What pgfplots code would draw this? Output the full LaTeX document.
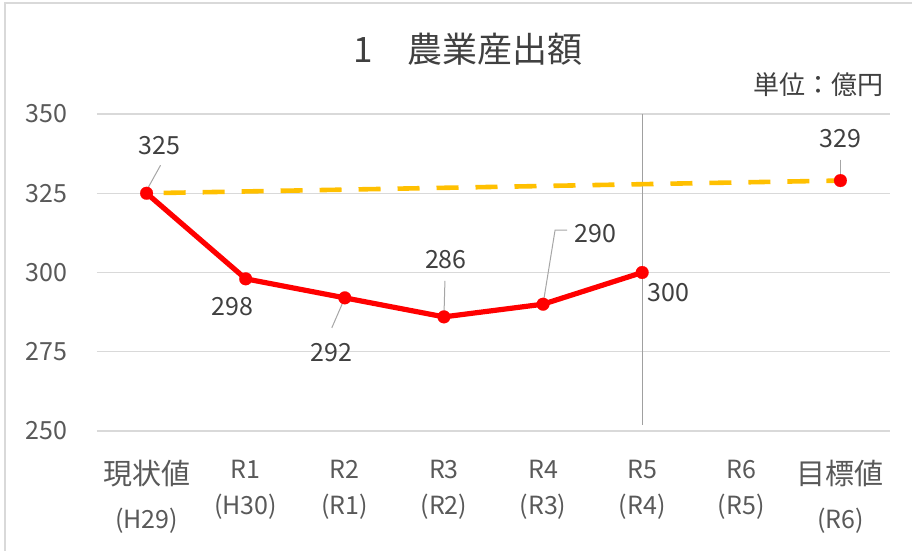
\documentclass[border=0pt]{standalone}
\usepackage{fontspec}
\setmainfont{Noto Sans CJK JP}
\usepackage{pgfplots}
\pgfplotsset{compat=1.18}
\definecolor{ored}{HTML}{FF0000}
\definecolor{oyel}{HTML}{FFC000}
\definecolor{gridc}{HTML}{D9D9D9}
\definecolor{tickc}{HTML}{595959}
\definecolor{lblc}{HTML}{404040}
\definecolor{leadc}{HTML}{A6A6A6}
\definecolor{vlinec}{HTML}{A0A0A0}
\tikzset{lbl/.style={font=\fontsize{12.5}{15}\selectfont, text=lblc, inner sep=0pt}}
\newcommand{\bigcjk}[1]{{\fontsize{14.5}{18}\selectfont #1}}
\begin{document}
\begin{tikzpicture}
\useasboundingbox (-48.5pt,-60pt) rectangle (407.5pt,215.5pt);
\fill[white] (-48.5pt,-60pt) rectangle (407.5pt,215.5pt);
\draw[gridc, line width=0.6pt] (-46pt,-60pt) -- (-46pt,214pt) -- (407.5pt,214pt);
\begin{axis}[
  at={(0,0)}, anchor=south west,
  scale only axis, width=396.5pt, height=158.5pt,
  xmin=-0.5, xmax=7.5, ymin=250, ymax=350,
  xtick={0,1,2,3,4,5,6,7},
  xticklabels={{\bigcjk{現状値}\\[4pt](H29)},{R1\\(H30)},{R2\\(R1)},{R3\\(R2)},{R4\\(R3)},{R5\\(R4)},{R6\\(R5)},{\bigcjk{目標値}\\[4pt](R6)}},
  ytick={250,275,300,325,350},
  ymajorgrids, grid style={gridc, line width=0.7pt},
  axis line style={draw=none},
  major tick length=0pt,
  tick label style={font=\fontsize{12.5}{18}\selectfont, text=tickc},
  yticklabel style={anchor=east, inner sep=0pt, xshift=-14.5pt},
  xticklabel style={anchor=north, inner sep=0pt, yshift=-14.5pt, align=center},
  /pgf/number format/assume math mode=true,
  clip=false,
]
\draw[vlinec, line width=0.6pt] (axis cs:5,350) -- (axis cs:5,252);
\addplot[oyel, line width=2.3pt, dash pattern=on 11pt off 8.5pt, dash phase=11pt] coordinates {(0,325) (7,329)};
\addplot[ored, line width=2.6pt, mark=*, mark size=3.2pt, mark options={solid, line width=0.1pt, fill=ored}] coordinates {(0,325) (1,298) (2,292) (3,286) (4,290) (5,300)};
\addplot[ored, only marks, mark=*, mark size=3.2pt, mark options={line width=0.1pt, fill=ored}] coordinates {(7,329)};
% leader lines
\draw[leadc, line width=0.5pt] ([shift={(7pt,14pt)}]axis cs:0,325) -- ([shift={(-0.5pt,0.5pt)}]axis cs:0,325);
\draw[leadc, line width=0.5pt] (axis cs:2,292) -- ([shift={(-6.5pt,-15pt)}]axis cs:2,292);
\draw[leadc, line width=0.5pt] ([shift={(0.5pt,18pt)}]axis cs:3,286) -- (axis cs:3,286);
\draw[leadc, line width=0.5pt] (axis cs:4,290) -- ([shift={(6pt,37pt)}]axis cs:4,290) -- ([shift={(12pt,37pt)}]axis cs:4,290);
\draw[leadc, line width=0.5pt] ([shift={(0pt,10.5pt)}]axis cs:7,329) -- ([shift={(0pt,1.5pt)}]axis cs:7,329);
% data labels
\node[lbl] at ([shift={(6.5pt,24pt)}]axis cs:0,325) {325};
\node[lbl] at ([shift={(-6.5pt,-14pt)}]axis cs:1,298) {298};
\node[lbl] at ([shift={(-6.5pt,-27.5pt)}]axis cs:2,292) {292};
\node[lbl] at ([shift={(1pt,28.5pt)}]axis cs:3,286) {286};
\node[lbl, anchor=west] at ([shift={(15.5pt,35.5pt)}]axis cs:4,290) {290};
\node[lbl] at ([shift={(13pt,-10pt)}]axis cs:5,300) {300};
\node[lbl] at ([shift={(0pt,21pt)}]axis cs:7,329) {329};
\end{axis}
\node[font=\fontsize{17.5}{20}\selectfont, text=lblc] at (185.5pt,191pt) {1　農業産出額};
\node[font=\fontsize{13}{15}\selectfont, text=lblc, anchor=east, inner sep=0pt] at (393.5pt,173pt) {単位：億円};
\end{tikzpicture}
\end{document}
